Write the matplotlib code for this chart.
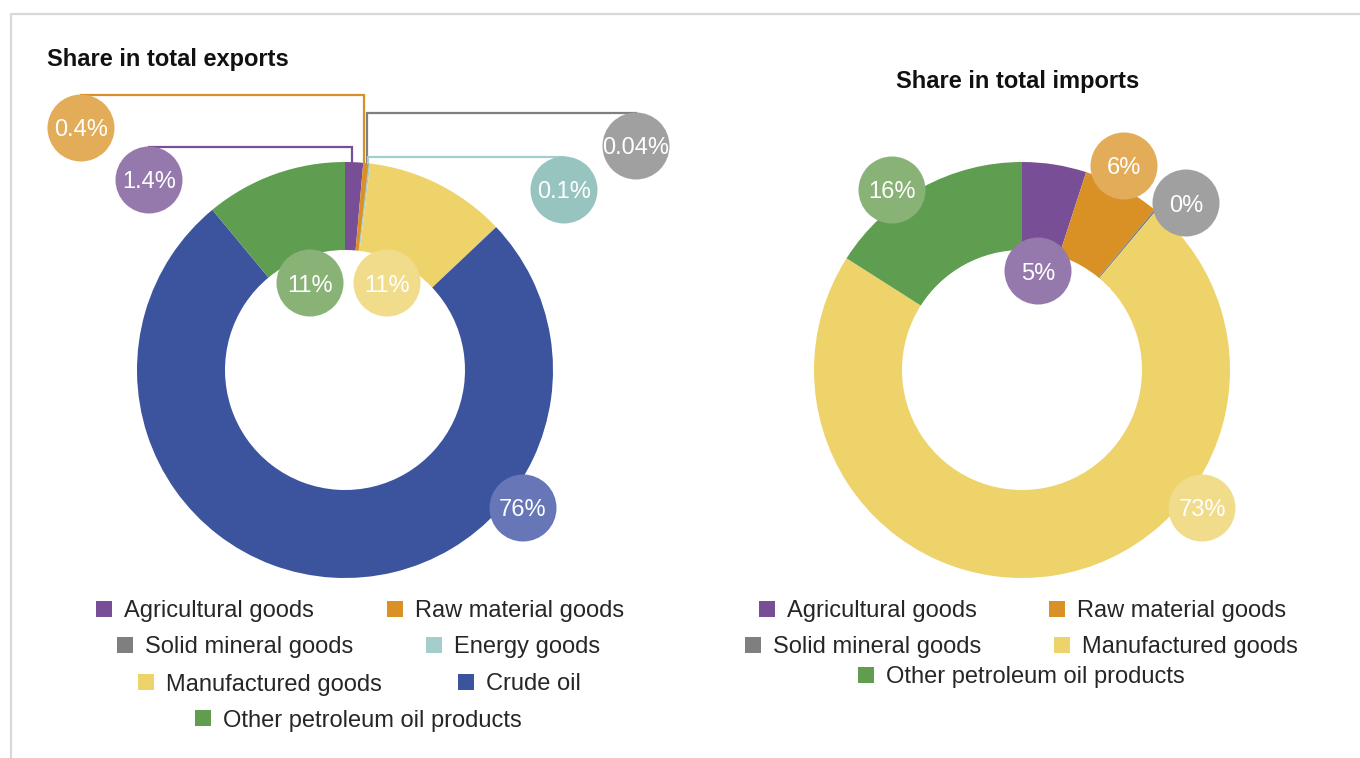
"""Share of exports / imports by product group, two donut charts side by side."""

import matplotlib
matplotlib.use("Agg")
import matplotlib.pyplot as plt
import numpy as np
from matplotlib.patches import Circle, Rectangle

W, H = 1360, 758
FONT = ["Liberation Sans", "DejaVu Sans"]

# --- data -------------------------------------------------------------------
export_cats = ["Agricultural goods", "Raw material goods", "Solid mineral goods",
               "Energy goods", "Manufactured goods", "Crude oil",
               "Other petroleum oil products"]
export_vals = [1.4, 0.4, 0.04, 0.1, 11, 76, 11]
export_lbls = ["1.4%", "0.4%", "0.04%", "0.1%", "11%", "76%", "11%"]

import_cats = ["Agricultural goods", "Raw material goods", "Solid mineral goods",
               "Manufactured goods", "Other petroleum oil products"]
import_vals = [5, 6, 0.15, 73, 16]
import_lbls = ["5%", "6%", "0%", "73%", "16%"]

COLORS = {
    "Agricultural goods": "#784f96",
    "Raw material goods": "#d99126",
    "Solid mineral goods": "#7f7f7f",
    "Energy goods": "#a3cecb",
    "Manufactured goods": "#eed36b",
    "Crude oil": "#3c539e",
    "Other petroleum oil products": "#5f9e50",
}
# label bubbles use a softer shade of the slice colour
BUBBLE_COLORS = {
    "Agricultural goods": "#9679ac",
    "Raw material goods": "#e2ac58",
    "Solid mineral goods": "#a0a0a0",
    "Energy goods": "#98c4c0",
    "Manufactured goods": "#f0dc8a",
    "Crude oil": "#6676b7",
    "Other petroleum oil products": "#89b277",
}

# --- layout (pixels from the top-left corner) -------------------------------
R_OUT, R_IN = 208, 120
BUBBLE_R = 33.5
EXP_CENTER = (345, 370)
IMP_CENTER = (1022, 370)

# bubble centre per slice, same order as the data
exp_bubbles = [(149, 180), (81, 128), (636, 146), (564, 190),
               (387, 283), (523, 508), (310, 283)]
exp_leader = [True, True, True, True, False, False, False]
imp_bubbles = [(1038, 271), (1124, 166), (1186, 203), (1202, 508), (892, 190)]

exp_legend = [  # (category, square x, row y)
    ("Agricultural goods", 96, 609), ("Raw material goods", 387, 609),
    ("Solid mineral goods", 117, 645), ("Energy goods", 426, 645),
    ("Manufactured goods", 138, 682), ("Crude oil", 458, 682),
    ("Other petroleum oil products", 195, 718),
]
imp_legend = [
    ("Agricultural goods", 759, 609), ("Raw material goods", 1049, 609),
    ("Solid mineral goods", 745, 645), ("Manufactured goods", 1054, 645),
    ("Other petroleum oil products", 858, 675),
]


def py(y):
    return H - y


def donut(ax, cats, vals, lbls, center, bubbles, leaders=None):
    cx, cy = center[0], py(center[1])
    cols = [COLORS[c] for c in cats]
    ax.pie(vals, colors=cols, startangle=90, counterclock=False,
           radius=R_OUT, center=(cx, cy),
           wedgeprops=dict(width=R_OUT - R_IN, linewidth=0))

    frac = np.cumsum(vals) / np.sum(vals)
    mids = frac - np.asarray(vals) / np.sum(vals) / 2
    for i, (lbl, (bx, by)) in enumerate(zip(lbls, bubbles)):
        by = py(by)
        if leaders is not None and leaders[i]:
            ang = 2 * np.pi * mids[i]
            lx = cx + R_OUT * np.sin(ang) - 2
            ly = cy + np.sqrt(R_OUT ** 2 - (lx - cx) ** 2)
            top = by + BUBBLE_R
            ax.plot([bx, lx, lx], [top, top, ly], color=cols[i], lw=1.6,
                    solid_joinstyle="miter", zorder=3)
        ax.add_patch(Circle((bx, by), BUBBLE_R, facecolor=BUBBLE_COLORS[cats[i]],
                            edgecolor="none", zorder=5))
        ax.text(bx, by, lbl, ha="center", va="center_baseline", color="white",
                fontsize=17, family=FONT, zorder=6)


def legend(ax, entries):
    sq = 16
    for cat, x, y in entries:
        ax.add_patch(Rectangle((x, py(y) - sq / 2), sq, sq,
                               facecolor=COLORS[cat], edgecolor="none"))
        ax.text(x + 28, py(y), cat, ha="left", va="center_baseline",
                fontsize=17, color="#262626", family=FONT)


fig = plt.figure(figsize=(W / 100, H / 100), dpi=100)
ax = fig.add_axes([0, 0, 1, 1])

donut(ax, export_cats, export_vals, export_lbls, EXP_CENTER, exp_bubbles, exp_leader)
donut(ax, import_cats, import_vals, import_lbls, IMP_CENTER, imp_bubbles)
legend(ax, exp_legend)
legend(ax, imp_legend)

ax.text(47, py(66), "Share in total exports", ha="left", va="baseline",
        fontsize=17, fontweight="bold", color="#111111", family=FONT)
ax.text(1018, py(88), "Share in total imports", ha="center", va="baseline",
        fontsize=17, fontweight="bold", color="#111111", family=FONT)

# light frame along the top and left edge
ax.plot([11, 11, W], [0, py(14), py(14)], color="#d9d9d9", lw=1.6)

ax.set_xlim(0, W)
ax.set_ylim(0, H)
ax.set_aspect("auto")
ax.set_axis_off()

fig.savefig("out.png", dpi=100)
